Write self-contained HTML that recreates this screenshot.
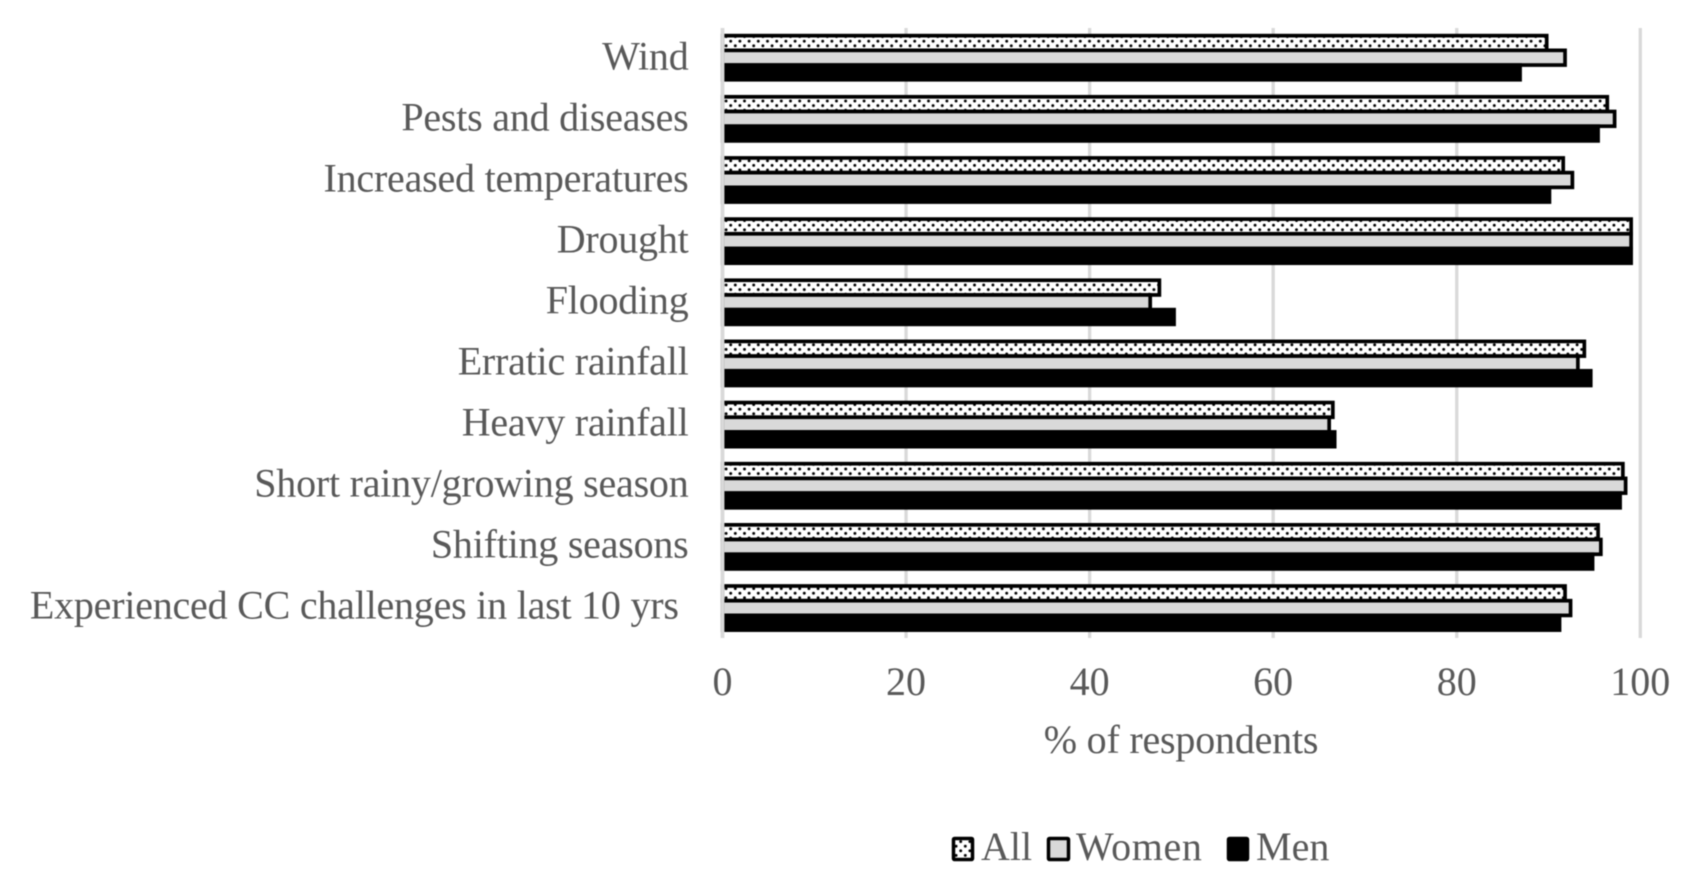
<!DOCTYPE html>
<html lang="en">
<head>
<meta charset="utf-8">
<title>Climate change challenges by respondents</title>
<style>
  html, body { margin: 0; padding: 0; background: #ffffff; }
  body { width: 1687px; height: 880px; overflow: hidden; }
  #chart { display: block; filter: blur(0.6px); }
  text { font-family: "Liberation Serif", serif; font-size: 40px; fill: #595959; }
</style>
</head>
<body>
<svg id="chart" xmlns="http://www.w3.org/2000/svg" width="1687" height="880" viewBox="0 0 1687 880">
  <defs>
    <pattern id="dots" patternUnits="userSpaceOnUse" width="9.2" height="9.2" patternTransform="translate(1103.3 285)">
      <rect x="-1" y="-1" width="12" height="12" fill="#ffffff"></rect>
      <circle cx="0" cy="0" r="1.45" fill="#000000"></circle>
      <circle cx="9.2" cy="0" r="1.45" fill="#000000"></circle>
      <circle cx="0" cy="9.2" r="1.45" fill="#000000"></circle>
      <circle cx="9.2" cy="9.2" r="1.45" fill="#000000"></circle>
      <circle cx="4.6" cy="4.6" r="1.45" fill="#000000"></circle>
    </pattern>
  </defs>
  <g id="grid"></g>
  <g id="bars"></g>
  <g id="axis"></g>
  <g id="xticks"></g>
  <text x="1181" y="753" text-anchor="middle" letter-spacing="-0.2">% of respondents</text>
  <g>
    <g>
      <rect x="953.5" y="838.5" width="19" height="21" rx="1" fill="url(#dots)" stroke="#000" stroke-width="3.5"></rect>
      <text x="981" y="860">All</text>
    </g>
    <g>
      <rect x="1048.5" y="838.5" width="20" height="21" rx="1" fill="#d9d9d9" stroke="#000" stroke-width="3.5"></rect>
      <text x="1076" y="860" letter-spacing="0.6">Women</text>
    </g>
    <g>
      <rect x="1228.5" y="838.5" width="19" height="21" rx="1" fill="#000" stroke="#000" stroke-width="3.5"></rect>
      <text x="1256" y="860">Men</text>
    </g>
  </g>
</svg>
<script>
const categories = ["Wind", "Pests and diseases", "Increased temperatures", "Drought", "Flooding", "Erratic rainfall", "Heavy rainfall", "Short rainy/growing season", "Shifting seasons", "Experienced CC challenges in last 10 yrs\u00a0"];
const allValues = [89.8, 96.4, 91.6, 99, 47.6, 93.9, 66.5, 98.1, 95.4, 91.8];
const womenValues = [91.8, 97.2, 92.6, 99, 46.6, 93.2, 66.1, 98.4, 95.7, 92.4];
const menValues = [86.9, 95.4, 90.1, 99, 49.2, 94.6, 66.7, 97.8, 94.8, 91.2];
const xTickValues = [0, 20, 40, 60, 80, 100];

const NS = "http://www.w3.org/2000/svg";
const plotLeft = 722.5, plotRight = 1640.3, plotTop = 28, plotBottom = 638;
const barHeight = 14.7, barStroke = 3.7;
function xScale(v) { return plotLeft + (v / 100) * (plotRight - plotLeft); }
function bandCenter(i) { return 57.7 + 61.15 * i; }
function labelBaseline(i) { return 69.4 + 61.03 * i; }
function make(tag, attrs) {
  const el = document.createElementNS(NS, tag);
  for (const k in attrs) el.setAttribute(k, attrs[k]);
  return el;
}
const grid = document.getElementById("grid");
const bars = document.getElementById("bars");
const axis = document.getElementById("axis");
const xticks = document.getElementById("xticks");

xTickValues.forEach(function (t) {
  if (t !== 0) {
    const line = make("line", { x1: xScale(t), x2: xScale(t), y1: plotTop, y2: plotBottom, stroke: "#d9d9d9", "stroke-width": 3.3 });
    
    
    grid.appendChild(line);
  }
  const label = make("text", { x: xScale(t), y: 695, "text-anchor": "middle" });
  label.textContent = String(t);
  
  
  xticks.appendChild(label);
});

function drawBar(value, center, offset, fill) {
  const rect = make("rect", {
    x: xScale(0),
    y: center + offset - barHeight / 2,
    width: xScale(value) - xScale(0),
    height: barHeight,
    fill: fill,
    stroke: "#000000",
    "stroke-width": barStroke
  });
  bars.appendChild(rect);
  return rect;
}

categories.forEach(function (name, i) {
  const c = bandCenter(i);
  const a = drawBar(allValues[i], c, -barHeight, "url(#dots)");
  
  
  const w = drawBar(womenValues[i], c, 0, "#d9d9d9");
  
  
  const m = drawBar(menValues[i], c, barHeight, "#000000");
  
  
  const label = make("text", { x: 688.5, y: labelBaseline(i), "text-anchor": "end", "letter-spacing": "-0.22" });
  label.textContent = name;
  
  
  axis.appendChild(label);
});

const axisLine = make("line", { x1: xScale(0), x2: xScale(0), y1: plotTop, y2: plotBottom, stroke: "#d9d9d9", "stroke-width": 3.8 });


axis.appendChild(axisLine);
</script>
</body>
</html>
